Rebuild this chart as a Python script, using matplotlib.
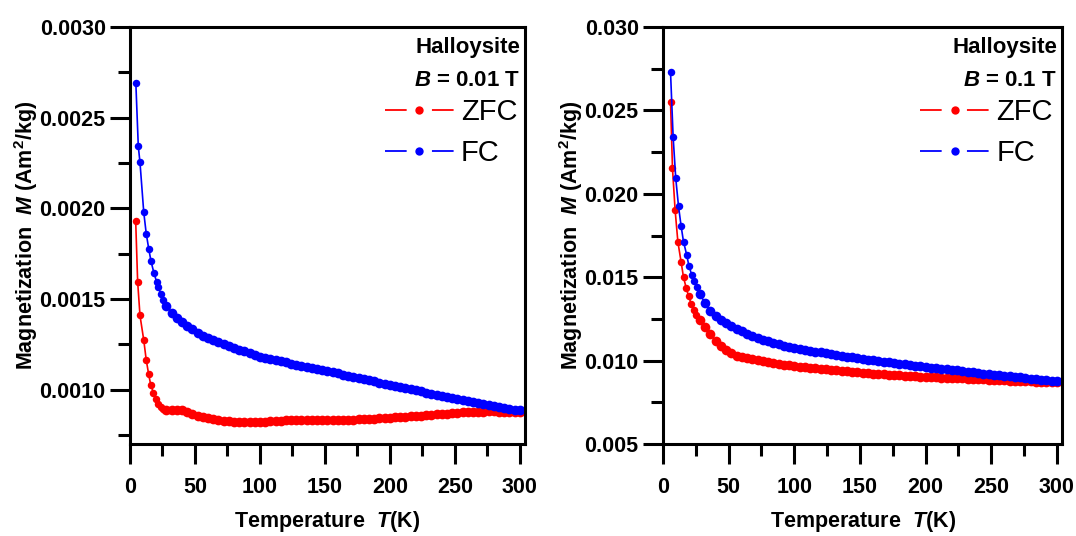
import matplotlib
matplotlib.use('Agg')
import matplotlib.pyplot as plt
from matplotlib.lines import Line2D
from matplotlib.ticker import MultipleLocator, FormatStrFormatter

plt.rcParams['font.family'] = ['Liberation Sans', 'DejaVu Sans']
plt.rcParams['mathtext.fontset'] = 'custom'
plt.rcParams['mathtext.rm'] = 'Liberation Sans:bold'
plt.rcParams['mathtext.it'] = 'Liberation Sans:italic:bold'
plt.rcParams['mathtext.bf'] = 'Liberation Sans:bold'
plt.rcParams['mathtext.default'] = 'rm'

# Dense measurement grid above ~27 K (shared by all four curves)
t_grid = [28, 32, 36, 40, 44, 48, 52, 56, 60, 64, 68, 72, 76, 80, 84, 88, 92, 96,
          100, 104, 108, 112, 116, 120, 124, 128, 132, 136, 140, 144, 148, 152,
          156, 160, 164, 168, 172, 176, 180, 184, 188, 192, 196, 200, 204, 208,
          212, 216, 220, 224, 228, 232, 236, 240, 244, 248, 252, 256, 260, 264,
          268, 272, 276, 280, 284, 288, 292, 296, 300]

# ---- B = 0.01 T ----
t_zfc_1_low = [4.4, 5.9, 7.7, 10.6, 12.5, 14.4, 16.0, 18.1, 19.7, 21.5, 23.5, 25.5]
m_zfc_1_low = [0.001928, 0.001595, 0.001409, 0.001273, 0.001164, 0.001084,
               0.001025, 0.000982, 0.000949, 0.000922, 0.000904, 0.000892]
m_zfc_1 = [0.000886, 0.000889, 0.000889, 0.000885, 0.000877, 0.000866, 0.000856,
           0.000848, 0.000841, 0.000836, 0.000831, 0.000827, 0.000825, 0.000823,
           0.000822, 0.000821, 0.000821, 0.000821, 0.000822, 0.000824, 0.000826,
           0.000828, 0.000829, 0.000830, 0.000830, 0.000830, 0.000830, 0.000830,
           0.000831, 0.000831, 0.000831, 0.000831, 0.000832, 0.000833, 0.000834,
           0.000834, 0.000835, 0.000836, 0.000837, 0.000839, 0.000840, 0.000842,
           0.000843, 0.000845, 0.000847, 0.000849, 0.000851, 0.000853, 0.000855,
           0.000857, 0.000859, 0.000861, 0.000863, 0.000866, 0.000868, 0.000871,
           0.000873, 0.000874, 0.000876, 0.000877, 0.000878, 0.000879, 0.000880,
           0.000880, 0.000879, 0.000878, 0.000877, 0.000876, 0.000875]

t_fc_1_low = [4.5, 6.4, 7.7, 10.6, 12.5, 14.4, 16.2, 18.4, 20.5, 21.8, 23.5, 25.5]
m_fc_1_low = [0.002693, 0.002342, 0.002253, 0.001978, 0.001861, 0.001778,
              0.001708, 0.001644, 0.001595, 0.001567, 0.001530, 0.001495]
m_fc_1 = [0.001462, 0.001425, 0.001395, 0.001372, 0.001352, 0.001332, 0.001314,
          0.001298, 0.001284, 0.001271, 0.001260, 0.001250, 0.001241, 0.001231,
          0.001221, 0.001211, 0.001201, 0.001191, 0.001182, 0.001175, 0.001168,
          0.001162, 0.001156, 0.001150, 0.001144, 0.001138, 0.001132, 0.001126,
          0.001120, 0.001114, 0.001108, 0.001101, 0.001095, 0.001089, 0.001083,
          0.001077, 0.001070, 0.001064, 0.001058, 0.001051, 0.001045, 0.001038,
          0.001032, 0.001025, 0.001019, 0.001013, 0.001007, 0.001001, 0.000996,
          0.000990, 0.000984, 0.000978, 0.000972, 0.000966, 0.000960, 0.000954,
          0.000948, 0.000942, 0.000937, 0.000931, 0.000926, 0.000920, 0.000914,
          0.000909, 0.000904, 0.000899, 0.000894, 0.000889, 0.000885]

# ---- B = 0.1 T ----
t_zfc_2_low = [5.7, 7.2, 9.2, 11.3, 13.8, 15.6, 17.7, 19.5, 21.5, 23.5, 25.5]
m_zfc_2_low = [0.02552, 0.02153, 0.01903, 0.01713, 0.01590, 0.01500, 0.01434,
               0.01386, 0.01340, 0.01305, 0.01275]
m_zfc_2 = [0.01245, 0.01200, 0.01158, 0.01120, 0.01090, 0.01064, 0.01043, 0.01030,
           0.01020, 0.01013, 0.01008, 0.01004, 0.01000, 0.00993, 0.00987, 0.00981,
           0.00976, 0.00971, 0.00966, 0.00963, 0.00960, 0.00957, 0.00954, 0.00951,
           0.00948, 0.00945, 0.00942, 0.00938, 0.00935, 0.00932, 0.00929, 0.00926,
           0.00924, 0.00922, 0.00920, 0.00918, 0.00916, 0.00914, 0.00912, 0.00909,
           0.00907, 0.00905, 0.00904, 0.00902, 0.00901, 0.00899, 0.00898, 0.00897,
           0.00895, 0.00894, 0.00893, 0.00891, 0.00890, 0.00888, 0.00887, 0.00885,
           0.00884, 0.00882, 0.00881, 0.00880, 0.00878, 0.00877, 0.00876, 0.00875,
           0.00874, 0.00873, 0.00872, 0.00871, 0.00870]

t_fc_2_low = [5.7, 7.7, 9.7, 11.8, 13.8, 15.6, 18.0, 19.7, 21.8, 23.8, 25.6]
m_fc_2_low = [0.02732, 0.02340, 0.02092, 0.01925, 0.01805, 0.01713, 0.01635,
              0.01569, 0.01516, 0.01476, 0.01442]
m_fc_2 = [0.01400, 0.01345, 0.01297, 0.01268, 0.01245, 0.01226, 0.01207, 0.01190,
          0.01175, 0.01161, 0.01149, 0.01137, 0.01126, 0.01116, 0.01107, 0.01098,
          0.01090, 0.01083, 0.01076, 0.01070, 0.01064, 0.01059, 0.01054, 0.01049,
          0.01044, 0.01039, 0.01034, 0.01029, 0.01024, 0.01019, 0.01014, 0.01009,
          0.01005, 0.01001, 0.00997, 0.00993, 0.00989, 0.00985, 0.00981, 0.00977,
          0.00973, 0.00969, 0.00965, 0.00962, 0.00958, 0.00955, 0.00951, 0.00948,
          0.00944, 0.00941, 0.00937, 0.00933, 0.00930, 0.00926, 0.00922, 0.00919,
          0.00915, 0.00912, 0.00909, 0.00906, 0.00903, 0.00899, 0.00896, 0.00892,
          0.00889, 0.00885, 0.00882, 0.00879, 0.00876]

panels = [
    dict(zfc=(t_zfc_1_low, m_zfc_1_low, m_zfc_1),
         fc=(t_fc_1_low, m_fc_1_low, m_fc_1),
         ylim=(0.0007, 0.0030), major=0.0005, minor=0.00025, fmt='%.4f',
         field='0.01', rect=[0.1208, 0.1716, 0.3671, 0.778]),
    dict(zfc=(t_zfc_2_low, m_zfc_2_low, m_zfc_2),
         fc=(t_fc_2_low, m_fc_2_low, m_fc_2),
         ylim=(0.005, 0.030), major=0.005, minor=0.0025, fmt='%.3f',
         field='0.1', rect=[0.6162, 0.1716, 0.3708, 0.778]),
]

fig = plt.figure(figsize=(10.76, 5.36), dpi=100)

for p in panels:
    ax = fig.add_axes(p['rect'])
    for key, col in (('zfc', '#ff0000'), ('fc', '#0000ff')):
        t_low, m_low, m_hi = p[key]
        # sparse low-temperature points plus the connecting line
        ax.plot(t_low + t_grid, m_low + m_hi, color=col, marker='o', ms=5.4,
                lw=1.2, mec='none')
        # dense part of the sweep appears as a thick band of overlapping dots
        ax.plot(t_grid, m_hi, color=col, ls='none', marker='o', ms=7.0, mec='none')
    ax.set_xlim(0, 304)
    ax.set_ylim(*p['ylim'])
    ax.xaxis.set_major_locator(MultipleLocator(50))
    ax.xaxis.set_minor_locator(MultipleLocator(25))
    ax.yaxis.set_major_locator(MultipleLocator(p['major']))
    ax.yaxis.set_minor_locator(MultipleLocator(p['minor']))
    ax.yaxis.set_major_formatter(FormatStrFormatter(p['fmt']))
    for s in ax.spines.values():
        s.set_linewidth(2.2)
    ax.tick_params(which='both', direction='out', width=2.2, top=False, right=False)
    ax.tick_params(which='major', length=14.5)
    ax.tick_params(which='minor', length=8.5)
    ax.tick_params(axis='x', which='major', pad=9, labelsize=15.5)
    ax.tick_params(axis='y', which='major', pad=3, labelsize=15.5)
    for lab in ax.get_xticklabels() + ax.get_yticklabels():
        lab.set_fontweight('bold')
    ax.set_xlabel(r'Temperature  $\mathit{T}$(K)', fontsize=15.5, fontweight='bold', labelpad=8)
    ax.set_ylabel(r'Magnetization  $\mathit{M}$ (Am$^{2}$/kg)', fontsize=15.5,
                  fontweight='bold', labelpad=0)

    ax.text(0.988, 0.952, 'Halloysite', transform=ax.transAxes, ha='right', va='center',
            fontsize=16, fontweight='bold')
    ax.text(0.988, 0.872, r'$\mathit{B}$ = ' + p['field'] + ' T', transform=ax.transAxes,
            ha='right', va='center', fontsize=16, fontweight='bold')

    handles = [Line2D([], [], color='#ff0000', marker='o', ms=6.0, mec='none', lw=1.3,
                      ls=(0, (12, 14))),
               Line2D([], [], color='#0000ff', marker='o', ms=6.0, mec='none', lw=1.3,
                      ls=(0, (12, 14)))]
    ax.legend(handles, ['ZFC', 'FC'], loc='upper left', bbox_to_anchor=(0.645, 0.83),
              frameon=False, fontsize=21, handlelength=2.36, handletextpad=0.25,
              labelspacing=0.44, borderpad=0, borderaxespad=0, numpoints=1)

fig.savefig('out.png', dpi=100)
